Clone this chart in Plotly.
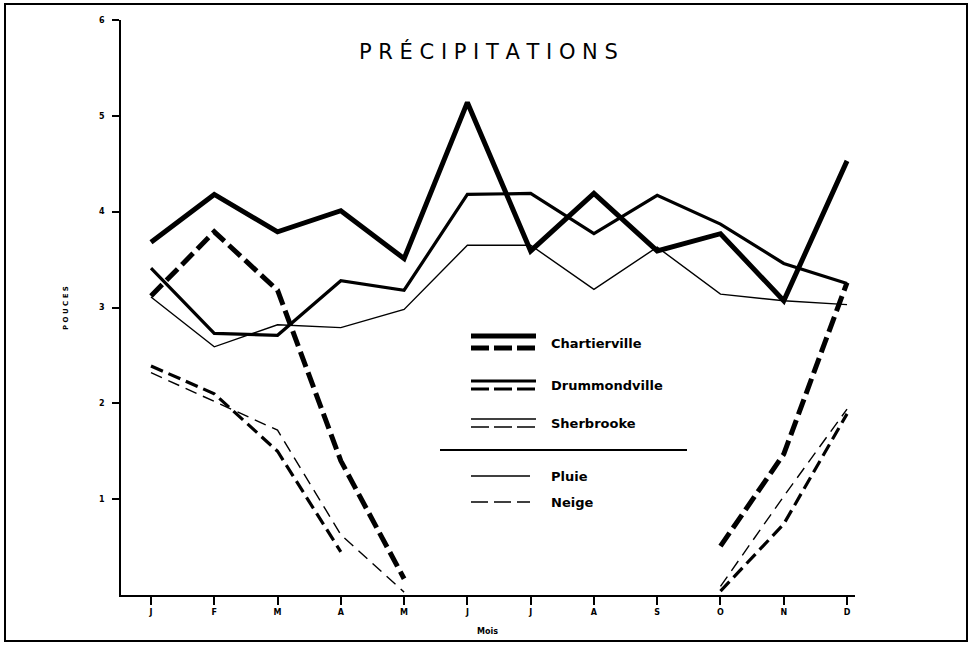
import plotly.graph_objects as go

# months (numeric positions, since the initials repeat)
months = ["J", "F", "M", "A", "M", "J", "J", "A", "S", "O", "N", "D"]
month_pos = list(range(12))

# rain (Pluie), inches
chartierville_rain = [3.68, 4.18, 3.79, 4.01, 3.51, 5.14, 3.59, 4.19, 3.59, 3.77, 3.07, 4.53]
drummondville_rain = [3.41, 2.73, 2.71, 3.28, 3.18, 4.18, 4.19, 3.77, 4.17, 3.87, 3.46, 3.25]
sherbrooke_rain = [3.11, 2.59, 2.82, 2.79, 2.98, 3.65, 3.65, 3.19, 3.63, 3.14, 3.07, 3.03]

# snow (Neige), water equivalent in inches; None = no snow
chartierville_snow = [3.12, 3.79, 3.18, 1.40, 0.17, None, None, None, None, 0.51, 1.47, 3.26]
drummondville_snow = [2.39, 2.10, 1.50, 0.45, None, None, None, None, None, 0.04, 0.74, 1.89]
sherbrooke_snow = [2.32, 2.02, 1.72, 0.63, 0.03, None, None, None, None, 0.09, 1.03, 1.94]

y_ticks = [1, 2, 3, 4, 5, 6]

W, H = 971, 646
ML, MR, MT, MB = 121, 116, 20, 51
PW, PH = W - ML - MR, H - MT - MB


def px(x, y):
    # pixel position -> paper coords
    return (x - ML) / PW, (H - MB - y) / PH


BOLD = dict(family="DejaVu Sans", color="black", weight="bold")

styles = {
    "Chartierville": (5, "16px,6px"),
    "Drummondville": (3.2, "13px,6px"),
    "Sherbrooke": (1.4, "12px,7px"),
}
series = [
    ("Chartierville", chartierville_rain, chartierville_snow),
    ("Drummondville", drummondville_rain, drummondville_snow),
    ("Sherbrooke", sherbrooke_rain, sherbrooke_snow),
]

fig = go.Figure()
for name, rain, snow in series:
    w, dash = styles[name]
    fig.add_trace(go.Scatter(x=month_pos, y=rain, mode="lines", name=name + " pluie",
                             line=dict(color="black", width=w)))
    fig.add_trace(go.Scatter(x=month_pos, y=snow, mode="lines", name=name + " neige",
                             line=dict(color="black", width=w, dash=dash), connectgaps=False))

shapes = []
annotations = []


def hline(x0, x1, y, width, dash=None):
    a0, b = px(x0, y)
    a1, _ = px(x1, y)
    line = dict(color="black", width=width)
    if dash:
        line["dash"] = dash
    shapes.append(dict(type="line", xref="paper", yref="paper", x0=a0, x1=a1, y0=b, y1=b, line=line))


def label(x, y, text, size, font=BOLD, **kw):
    a, b = px(x, y)
    annotations.append(dict(xref="paper", yref="paper", x=a, y=b, text=text, showarrow=False,
                            xanchor=kw.pop("xanchor", "left"), yanchor="middle",
                            font=dict(font, size=size), **kw))


# custom legend
legend_rows = [("Chartierville", 336, 348, 343), ("Drummondville", 381, 389, 385),
               ("Sherbrooke", 419, 427, 423)]
for name, ys, yd, yt in legend_rows:
    w, dash = styles[name]
    hline(471, 536, ys, w)
    hline(471, 536, yd, w, "18px,5px")
    label(549, yt, name, 13)
hline(440, 687, 450, 2)
hline(471, 530, 476, 1.4)
label(549, 476, "Pluie", 13)
hline(471, 530, 502, 1.4, "17px,6px")
label(549, 502, "Neige", 13)

# frame around the whole page
x0, y0 = px(5, 641)
x1, y1 = px(967, 4)
shapes.append(dict(type="rect", xref="paper", yref="paper", x0=x0, y0=y0, x1=x1, y1=y1,
                   line=dict(color="black", width=2)))

label(488, 52, " ".join("PRÉCIPITATIONS"), 21, font=dict(family="DejaVu Sans", color="black"),
      xanchor="center")
label(66, 308, " ".join("POUCES"), 7, xanchor="center", textangle=-90)
label(487, 631, "Mois", 8, xanchor="center")

fig.update_layout(
    width=W, height=H,
    margin=dict(l=ML, r=MR, t=MT, b=MB),
    paper_bgcolor="white", plot_bgcolor="white",
    showlegend=False,
    shapes=shapes, annotations=annotations,
    xaxis=dict(range=[-0.474, 11.126], tickvals=month_pos, ticktext=months,
               showgrid=False, zeroline=False, showline=True, linecolor="black", linewidth=2,
               ticks="outside", ticklen=8, tickwidth=1.5, tickcolor="black",
               tickfont=dict(BOLD, size=8)),
    yaxis=dict(range=[0, 6], tickvals=y_ticks, showgrid=False, zeroline=False,
               showline=True, linecolor="black", linewidth=1.5,
               ticks="outside", ticklen=7, tickwidth=1.5, tickcolor="black",
               ticklabelstandoff=6, tickfont=dict(BOLD, size=8)),
)

# drop the browser's default page margin so the figure sits at the window origin
fig.write_html("out.html", config={"displayModeBar": False},
               post_script="document.body.style.margin='0';")
